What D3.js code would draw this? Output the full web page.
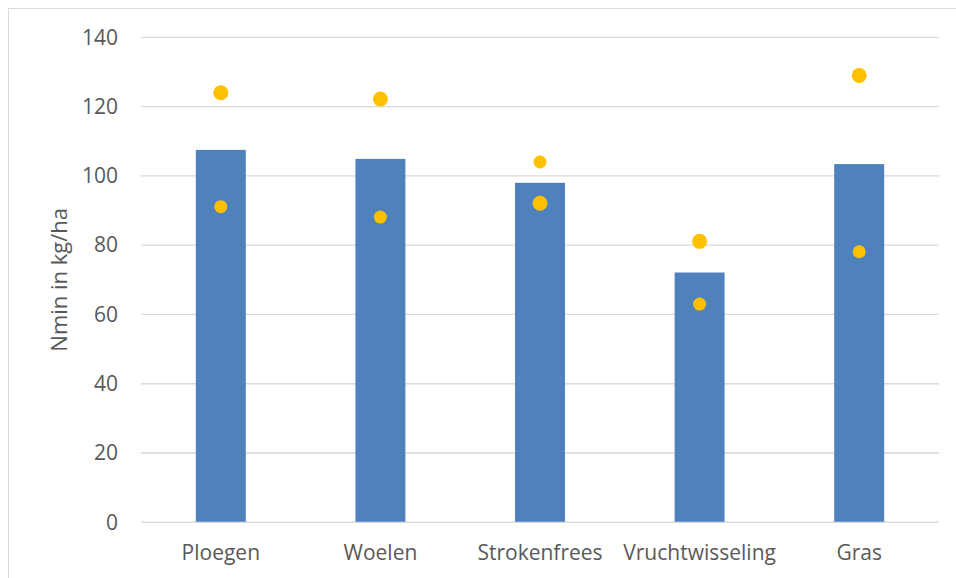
<!DOCTYPE html>
<html>
<head>
<meta charset="utf-8">
<script src="https://cdn.jsdelivr.net/npm/d3@7"></script>
<style>
  html, body { margin: 0; padding: 0; background: #fff; }
  svg { display: block; font-family: "Open Sans", "Liberation Sans", sans-serif; }
</style>
</head>
<body>
<svg id="chart" width="956" height="578"></svg>
<script>
// Nmin per grondbewerking
const categories = ["Ploegen", "Woelen", "Strokenfrees", "Vruchtwisseling", "Gras"];
const barValues = [107.5, 104.9, 98.0, 72.1, 103.4];
const seriesA = [124.0, 122.2, 92.1, 81.1, 129.0];   // larger markers
const seriesB = [91.1, 88.1, 104.0, 63.0, 78.1];     // smaller markers
const yTicks = [0, 20, 40, 60, 80, 100, 120, 140];
const yTitle = "Nmin in kg/ha";

const svg = d3.select("#chart");
const margin = { left: 141, right: 956 - 939, top: 37.3, bottom: 578 - 522.3 };
const width = 956, height = 578;

// outer chart frame
svg.append("rect")
  .attr("x", 8.5).attr("y", 8.5)
  .attr("width", 1000).attr("height", 700)
  .attr("fill", "none").attr("stroke", "#d9d9d9").attr("stroke-width", 1);

const x = d3.scaleBand()
  .domain(categories)
  .range([margin.left, width - margin.right])
  .paddingInner(0.687).paddingOuter(0.3435);

const y = d3.scaleLinear()
  .domain([0, 140])
  .range([height - margin.bottom, margin.top]);

// gridlines
svg.append("g")
  .selectAll("line")
  .data(yTicks)
  .join("line")
  .attr("x1", margin.left).attr("x2", width - margin.right)
  .attr("y1", d => y(d)).attr("y2", d => y(d))
  .attr("stroke", "#d9d9d9").attr("stroke-width", 1.3);

// y axis labels
const yAxis = d3.axisLeft(y).tickValues(yTicks).tickSize(0).tickPadding(0);
const yg = svg.append("g").attr("transform", `translate(${margin.left - 23},0)`).call(yAxis);
yg.select(".domain").remove();
yg.selectAll("text")
  .attr("fill", "#595959")
  .attr("font-size", 21)
  .attr("font-family", "Open Sans, sans-serif");

// bars
svg.append("g")
  .selectAll("rect")
  .data(categories)
  .join("rect")
  .attr("x", d => x(d))
  .attr("width", x.bandwidth())
  .attr("y", (d, i) => y(barValues[i]))
  .attr("height", (d, i) => y(0) - y(barValues[i]))
  .attr("fill", "#4f81bd");

// x axis line (zero line on top of bars)
svg.append("line")
  .attr("x1", margin.left).attr("x2", width - margin.right)
  .attr("y1", y(0)).attr("y2", y(0))
  .attr("stroke", "#d9d9d9").attr("stroke-width", 1.3);

// x axis labels
const xAxis = d3.axisBottom(x).tickSize(0).tickPadding(0);
const xg = svg.append("g").attr("transform", `translate(0,${y(0) + 23})`).call(xAxis);
xg.select(".domain").remove();
xg.selectAll("text")
  .attr("fill", "#595959")
  .attr("font-size", 21)
  .attr("font-family", "Open Sans, sans-serif");

// markers
const cx = d => x(d) + x.bandwidth() / 2;
svg.append("g")
  .selectAll("circle")
  .data(categories)
  .join("circle")
  .attr("cx", cx)
  .attr("cy", (d, i) => y(seriesA[i]))
  .attr("r", 7.5)
  .attr("fill", "#ffc000");
svg.append("g")
  .selectAll("circle")
  .data(categories)
  .join("circle")
  .attr("cx", cx)
  .attr("cy", (d, i) => y(seriesB[i]))
  .attr("r", 6.5)
  .attr("fill", "#ffc000");

// y axis title
svg.append("text")
  .attr("transform", `translate(67,${(y(0) + y(140)) / 2}) rotate(-90)`)
  .attr("text-anchor", "middle")
  .attr("fill", "#595959")
  .attr("font-size", 22)
  .text(yTitle);
</script>
</body>
</html>
